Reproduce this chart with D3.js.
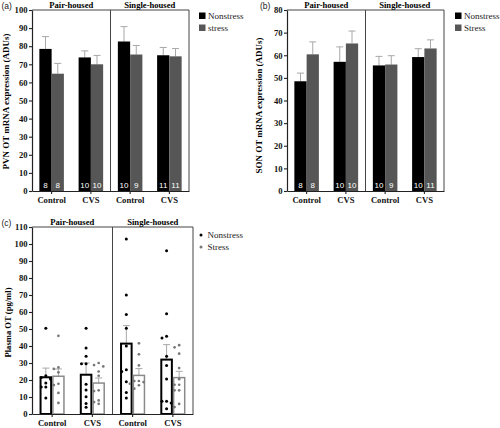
<!DOCTYPE html>
<html><head><meta charset="utf-8">
<script src="https://cdn.jsdelivr.net/npm/d3@7"></script>
<style>body{margin:0;background:#fff} svg{display:block}</style>
</head><body><svg id="chart" width="500" height="428"></svg>
<script>
// ---------- data ----------
const conditions = ["Control", "CVS", "Control", "CVS"];
const housing = ["Pair-housed", "Single-housed"];
const legendA = ["Nonstress", "stress"];
const legendB = ["Nonstress", "Stress"];
const legendC = ["Nonstress", "Stress"];
const ticksA = d3.range(0, 101, 10);
const ticksB = d3.range(0, 81, 10);
const ticksC = d3.range(0, 111, 10);

const pvnNonstress    = [78.5, 73.8, 82.6, 75.0];
const pvnNonstressErr = [6.8, 3.6, 8.2, 4.3];
const pvnStress       = [64.8, 70.0, 75.4, 74.4];
const pvnStressErr    = [5.7, 4.9, 5.0, 4.3];
const pvnNNonstress   = [8, 10, 10, 11];
const pvnNStress      = [8, 10, 9, 11];

const sonNonstress    = [48.5, 57.1, 55.5, 59.2];
const sonNonstressErr = [3.6, 6.6, 4.0, 3.7];
const sonStress       = [60.4, 65.2, 55.9, 63.0];
const sonStressErr    = [5.5, 5.5, 3.9, 3.8];
const sonNNonstress   = [8, 10, 10, 10];
const sonNStress      = [8, 10, 9, 11];

const plasmaNonstress    = [21.6, 23.1, 41.4, 32.0];
const plasmaNonstressErr = [5.4, 6.9, 10.6, 8.8];
const plasmaStress       = [22.2, 18.2, 22.7, 21.4];
const plasmaStressErr    = [4.3, 3.0, 4.0, 3.7];
const plasmaNonstressPoints = [
  [50.4, 22.5, 21.5, 20.6, 18.2, 15.9, 15.9, 9.4],
  [50.4, 38.8, 33.9, 29.6, 29.6, 17.5, 14.1, 10.2, 6.2, 3.9],
  [103, 70, 58.5, 50.5, 40, 26, 25, 19, 12.7, 9.4],
  [96, 59, 45.7, 44.7, 33.9, 28.6, 20.6, 7.5, 7.5, 6.5, 3.1]
];
const plasmaStressPoints = [
  [46, 27.4, 26.5, 24.5, 17.8, 17, 12.4, 6.5],
  [30, 28.8, 28, 25, 22.5, 13.9, 13.5, 8, 7, 6],
  [41.6, 35.1, 28.6, 19.4, 19.4, 18.8, 17.8, 16.9, 14.9],
  [40.5, 39.2, 35.5, 27, 20.5, 17.2, 17.2, 13.9, 13.9, 5.9, 4.1]
];

// ---------- drawing ----------
const svg = d3.select("#chart");
const SERIF = "'Liberation Serif','Times New Roman',serif";
const SANS = "'Liberation Sans',Arial,sans-serif";
const GRAY = "#565656";

function drawPanel(cfg) {
  const { left, right, top, bottom, ymax } = cfg;
  const g = svg.append("g");
  const x = d3.scaleBand().domain(d3.range(conditions.length))
    .range([left, right]).paddingInner(0.375).paddingOuter(0.1875);
  const xs = d3.scaleBand().domain([0, 1]).range([0, x.bandwidth()]);
  const y = d3.scaleLinear().domain([0, ymax]).range([bottom, top]);
  const divX = (x(1) + x.bandwidth() + x(2)) / 2;

  // frame + divider
  g.append("path")
    .attr("d", `M${left},${top}H${right}V${bottom}M${divX},${top}V${bottom}`)
    .attr("fill", "none").attr("stroke", "#444").attr("stroke-width", 1);

  // housing headings
  const centers = [(left + divX) / 2, (divX + right) / 2];
  g.selectAll("text.head").data(housing).join("text")
    .attr("x", (d, i) => centers[i]).attr("y", top - 2)
    .attr("text-anchor", "middle")
    .style("font", `bold 8.6px ${SERIF}`).text(d => d);

  // panel letter
  g.append("text").attr("x", cfg.letterX).attr("y", top - 1.5)
    .style("font", `8.5px ${SANS}`).attr("fill", "#222").text(cfg.letter);

  // y-axis label
  g.append("text")
    .attr("transform", `translate(${cfg.ylabX},${(top + bottom) / 2 + (cfg.ylabDy || 0)}) rotate(-90)`)
    .attr("text-anchor", "middle")
    .style("font", `bold ${cfg.ylabSize || 9}px ${SERIF}`).text(cfg.ylabel);

  cfg.series.forEach((s, si) => {
    const cx = i => x(i) + xs(si) + xs.bandwidth() / 2;
    // error bars
    const eb = g.append("g").attr("stroke", "#a8a8a8").attr("stroke-width", 1).attr("fill", "none");
    s.values.forEach((v, i) => {
      const yt = y(v + s.err[i]);
      eb.append("path").attr("d", `M${cx(i)},${y(v)}V${yt}M${cx(i) - 3.5},${yt}H${cx(i) + 3.5}`);
    });
    // bars
    if (cfg.outline) {
      const sw = si === 0 ? 2 : 1.5;
      g.selectAll(null).data(s.values).join("rect")
        .attr("x", (d, i) => x(i) + xs(si) + sw / 2)
        .attr("width", xs.bandwidth() - sw)
        .attr("y", d => y(d))
        .attr("height", d => y(0) - y(d))
        .attr("fill", "#fff").attr("fill-opacity", 0)
        .attr("stroke", si === 0 ? "#000" : "#8a8a8a").attr("stroke-width", sw);
    } else {
      g.selectAll(null).data(s.values).join("rect")
        .attr("x", (d, i) => x(i) + xs(si))
        .attr("width", xs.bandwidth())
        .attr("y", d => y(d))
        .attr("height", d => y(0) - y(d))
        .attr("fill", si === 0 ? "#000" : GRAY);
    }
    // n labels
    if (s.n) {
      g.selectAll(null).data(s.n).join("text")
        .attr("x", (d, i) => cx(i)).attr("y", bottom - 3.5)
        .attr("text-anchor", "middle").attr("fill", "#fff")
        .style("font", `8px ${SANS}`).text(d => d);
    }
    // points (simple swarm layout)
    if (s.points) {
      s.points.forEach((pts, i) => {
        const placed = [];
        const sorted = pts.slice().sort((a, b) => b - a);
        sorted.forEach(v => {
          const py = y(v);
          const offs = [0, -4.6, 4.6, -9, 9];
          let off = 0;
          for (const o of offs) {
            if (!placed.some(p => Math.hypot(p[0] - o, p[1] - py) < 3.4)) { off = o; break; }
          }
          placed.push([off, py]);
          g.append("circle").attr("cx", cx(i) + off).attr("cy", py)
            .attr("r", si === 0 ? 1.5 : 1.35)
            .attr("fill", si === 0 ? "#000" : "#777");
        });
      });
    }
  });

  // axes
  const ya = g.append("g").attr("transform", `translate(${left},0)`)
    .call(d3.axisLeft(y).tickValues(cfg.ticks).tickSize(3).tickPadding(1.5).tickSizeOuter(0));
  const xa = g.append("g").attr("transform", `translate(0,${bottom})`)
    .call(d3.axisBottom(x).tickFormat(i => conditions[i]).tickSize(3).tickPadding(2.5).tickSizeOuter(0));
  [ya, xa].forEach(a => {
    a.select(".domain").attr("stroke", "#222").attr("stroke-width", 1.2);
    a.selectAll(".tick line").attr("stroke", "#222").attr("stroke-width", 1.1);
    a.selectAll(".tick text").style("font", `bold 8.6px ${SERIF}`).attr("fill", "#111");
  });

  // legend
  const lg = g.append("g");
  cfg.legend.forEach((name, i) => {
    const ly = cfg.legendY + i * 12;
    if (cfg.outline) {
      lg.append("circle").attr("cx", cfg.legendX + 2).attr("cy", ly - 3)
        .attr("r", 1.5).attr("fill", i === 0 ? "#000" : "#777");
      lg.append("text").attr("x", cfg.legendX + 8.5).attr("y", ly)
        .style("font", `9px ${SERIF}`).attr("fill", "#222").text(name);
    } else {
      lg.append("rect").attr("x", cfg.legendX).attr("y", ly - 6.5)
        .attr("width", 6.5).attr("height", 6.5).attr("fill", i === 0 ? "#000" : GRAY);
      lg.append("text").attr("x", cfg.legendX + 9).attr("y", ly)
        .style("font", `9px ${SERIF}`).attr("fill", "#222").text(name);
    }
  });
}

drawPanel({
  left: 32, right: 189, top: 10, bottom: 191, ymax: 100, ticks: ticksA,
  letter: "(a)", letterX: 1.5, ylabX: 9, ylabDy: 1,
  ylabel: "PVN OT mRNA expression (ADUs)",
  legend: legendA, legendX: 199, legendY: 19,
  series: [
    { values: pvnNonstress, err: pvnNonstressErr, n: pvnNNonstress },
    { values: pvnStress, err: pvnStressErr, n: pvnNStress }
  ]
});

drawPanel({
  left: 287, right: 444, top: 10, bottom: 191, ymax: 80, ticks: ticksB,
  letter: "(b)", letterX: 260, ylabX: 261.5, ylabDy: 5,
  ylabel: "SON OT mRNA expression (ADUs)",
  legend: legendB, legendX: 455, legendY: 19,
  series: [
    { values: sonNonstress, err: sonNonstressErr, n: sonNNonstress },
    { values: sonStress, err: sonStressErr, n: sonNStress }
  ]
});

drawPanel({
  left: 32, right: 193, top: 227, bottom: 414, ymax: 110, ticks: ticksC,
  letter: "(c)", letterX: 1.5, ylabX: 11, ylabDy: 2, ylabSize: 8.6,
  ylabel: "Plasma OT (pg/ml)",
  legend: legendC, legendX: 199, legendY: 238, outline: true,
  series: [
    { values: plasmaNonstress, err: plasmaNonstressErr, points: plasmaNonstressPoints },
    { values: plasmaStress, err: plasmaStressErr, points: plasmaStressPoints }
  ]
});
</script></body></html>
